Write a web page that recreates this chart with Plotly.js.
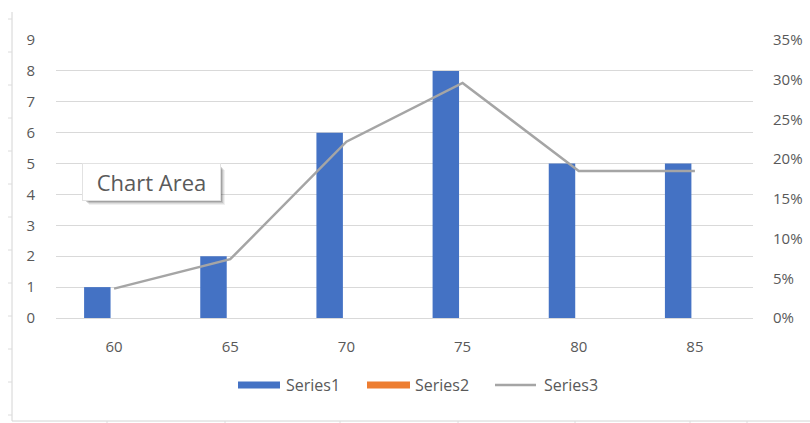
<!DOCTYPE html>
<html>
<head>
<meta charset="utf-8">
<script src="https://cdn.plot.ly/plotly-3.0.1.min.js"></script>
<style>
  html, body { margin: 0; padding: 0; background: #ffffff; }
  #chart { width: 810px; height: 423px; }
</style>
</head>
<body>
<div id="chart"></div>
<script>
// Score bins and their counts
const categories = ['60', '65', '70', '75', '80', '85'];
const series1 = [1, 2, 6, 8, 5, 5];
const series2 = [null, null, null, null, null, null];
// Share of each bin in the total count (secondary axis)
const series3 = [0.037, 0.074, 0.222, 0.296, 0.185, 0.185];

const seriesNames = ['Series1', 'Series2', 'Series3'];
const seriesColors = ['#4472C4', '#ED7D31', '#A5A5A5'];

const leftTicks = [0, 1, 2, 3, 4, 5, 6, 7, 8, 9];
const rightTicks = [0, 0.05, 0.10, 0.15, 0.20, 0.25, 0.30, 0.35];
const rightTickText = ['0%', '5%', '10%', '15%', '20%', '25%', '30%', '35%'];

const W = 810, H = 423;
const M = { l: 56, r: 57, t: 40, b: 105 };
const plotW = W - M.l - M.r, plotH = H - M.t - M.b;
// pixel -> paper helpers for the frame, legend and callout
const px = x => (x - M.l) / plotW;
const py = y => (H - M.b - y) / plotH;

const fontFam = '"Open Sans", "Noto Sans", "DejaVu Sans", sans-serif';
const textGrey = '#595959';
const gridGrey = '#d9d9d9';
const tickSize = 15;

const traces = [
  {
    type: 'bar', name: seriesNames[0], x: categories, y: series1,
    marker: { color: seriesColors[0] }, yaxis: 'y', showlegend: false
  },
  {
    type: 'bar', name: seriesNames[1], x: categories, y: series2,
    marker: { color: seriesColors[1] }, yaxis: 'y', showlegend: false
  },
  {
    type: 'scatter', mode: 'lines', name: seriesNames[2], x: categories, y: series3,
    line: { color: seriesColors[2], width: 2.5 }, yaxis: 'y2', showlegend: false
  }
];

const shapes = [];
const annotations = [];

// Sheet frame on the left and bottom edges, with small ruler ticks
shapes.push(
  { type: 'line', xref: 'paper', yref: 'paper', x0: px(12), x1: px(12), y0: py(12), y1: py(421),
    line: { color: '#d4d4d4', width: 1 } },
  { type: 'line', xref: 'paper', yref: 'paper', x0: px(12), x1: px(810), y0: py(421), y1: py(421),
    line: { color: '#d4d4d4', width: 1 } }
);
for (let y = 19; y < 421; y += 33) {
  shapes.push({ type: 'line', xref: 'paper', yref: 'paper', x0: px(8), x1: px(12), y0: py(y), y1: py(y),
    line: { color: '#dcdcdc', width: 1 } });
}
[107, 225, 340, 458, 575, 690, 747].forEach(x => {
  shapes.push({ type: 'line', xref: 'paper', yref: 'paper', x0: px(x), x1: px(x), y0: py(421), y1: py(424),
    line: { color: '#dcdcdc', width: 1 } });
});

// Legend row: wide swatches for the bar series, a short stroke for the line series
const legendY = 385;
const legendItems = [
  { kind: 'bar', x0: 238, x1: 280, tx: 284 },
  { kind: 'bar', x0: 367, x1: 410, tx: 413 },
  { kind: 'line', x0: 495, x1: 536, tx: 542 }
];
legendItems.forEach((it, i) => {
  if (it.kind === 'bar') {
    shapes.push({ type: 'rect', xref: 'paper', yref: 'paper',
      x0: px(it.x0), x1: px(it.x1), y0: py(legendY - 3.5), y1: py(legendY + 3.5),
      line: { width: 0 }, fillcolor: seriesColors[i] });
  } else {
    shapes.push({ type: 'line', xref: 'paper', yref: 'paper',
      x0: px(it.x0), x1: px(it.x1), y0: py(legendY), y1: py(legendY),
      line: { color: seriesColors[i], width: 2.5 } });
  }
  annotations.push({ xref: 'paper', yref: 'paper', x: px(it.tx), y: py(legendY),
    xanchor: 'left', yanchor: 'middle', text: seriesNames[i], showarrow: false,
    font: { family: fontFam, size: 16, color: textGrey } });
});

// Soft drop shadow beneath the "Chart Area" callout
[[5, 0.06], [4, 0.08], [3, 0.12], [2, 0.16]].forEach(([d, a]) => {
  shapes.push({ type: 'rect', xref: 'paper', yref: 'paper',
    x0: px(82 + d + 2), x1: px(220 + d), y0: py(163 + d + 2), y1: py(200 + d),
    line: { width: 0 }, fillcolor: 'rgba(0,0,0,' + a + ')' });
});
annotations.push({
  xref: 'paper', yref: 'paper', x: px(82), y: py(163), xanchor: 'left', yanchor: 'top',
  text: 'Chart Area', showarrow: false, width: 137, height: 36, borderpad: 0,
  bgcolor: '#ffffff', bordercolor: '#e2e2e2', borderwidth: 1,
  font: { family: fontFam, size: 22, color: '#5a5a5a' }
});

const layout = {
  width: W, height: H,
  margin: M,
  paper_bgcolor: '#ffffff', plot_bgcolor: '#ffffff',
  font: { family: fontFam, size: 12, color: textGrey },
  barmode: 'group', bargap: 0.423, bargroupgap: 0.21,
  showlegend: false,
  xaxis: {
    type: 'category', showgrid: false, zeroline: false, showline: false,
    ticks: '', ticklabelstandoff: 18, tickfont: { size: tickSize, color: textGrey }
  },
  yaxis: {
    range: [0, 9], tickvals: leftTicks, showgrid: true, gridcolor: gridGrey, gridwidth: 1,
    zeroline: true, zerolinecolor: gridGrey, zerolinewidth: 1, showline: false,
    ticks: '', ticklabelstandoff: 20, tickfont: { size: tickSize, color: textGrey }
  },
  yaxis2: {
    overlaying: 'y', side: 'right', range: [0, 0.35], tickvals: rightTicks, ticktext: rightTickText,
    showgrid: false, zeroline: false, showline: false,
    ticks: '', ticklabelstandoff: 19, tickfont: { size: tickSize, color: textGrey }
  },
  shapes: shapes,
  annotations: annotations
};

Plotly.newPlot('chart', traces, layout, { staticPlot: true, displayModeBar: false });
</script>
</body>
</html>
